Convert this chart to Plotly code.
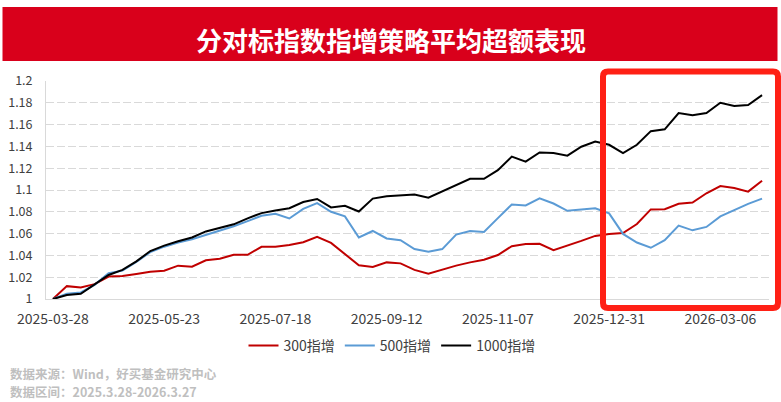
import plotly.graph_objects as go

dates = [
    "2025-03-28", "2025-04-03", "2025-04-11", "2025-04-18", "2025-04-25", "2025-04-30",
    "2025-05-09", "2025-05-16", "2025-05-23", "2025-05-30", "2025-06-06", "2025-06-13",
    "2025-06-20", "2025-06-27", "2025-07-04", "2025-07-11", "2025-07-18", "2025-07-25",
    "2025-08-01", "2025-08-08", "2025-08-15", "2025-08-22", "2025-08-29", "2025-09-05",
    "2025-09-12", "2025-09-19", "2025-09-26", "2025-09-30", "2025-10-10", "2025-10-17",
    "2025-10-24", "2025-10-31", "2025-11-07", "2025-11-14", "2025-11-21", "2025-11-28",
    "2025-12-05", "2025-12-12", "2025-12-19", "2025-12-26", "2025-12-31", "2026-01-09",
    "2026-01-16", "2026-01-23", "2026-01-30", "2026-02-06", "2026-02-13", "2026-02-27",
    "2026-03-06", "2026-03-13", "2026-03-20", "2026-03-27",
]

s300 = [
    1.000, 1.0118, 1.0106, 1.0136, 1.0206, 1.0210, 1.0230, 1.0250, 1.0260, 1.0306,
    1.0297, 1.0355, 1.0370, 1.0406, 1.0406, 1.0479, 1.0479, 1.0495, 1.0521, 1.0570,
    1.0515, 1.0412, 1.0309, 1.0294, 1.0336, 1.0327, 1.0267, 1.0233, 1.0273, 1.0306,
    1.0336, 1.0360, 1.0403, 1.0485, 1.0505, 1.0506, 1.0448, 1.0488, 1.0533, 1.0579,
    1.0597, 1.0605, 1.0688, 1.0822, 1.0824, 1.0873, 1.0885, 1.0970, 1.1036, 1.1018,
    1.0985, 1.1085,
]

s500 = [
    1.000, 1.0048, 1.0060, 1.0130, 1.0236, 1.0260, 1.0340, 1.0430, 1.0480, 1.0518,
    1.0548, 1.0588, 1.0630, 1.0667, 1.0715, 1.0764, 1.0782, 1.0739, 1.0827, 1.0879,
    1.0800, 1.0758, 1.0564, 1.0624, 1.0555, 1.0540, 1.0458, 1.0433, 1.0458, 1.0591,
    1.0624, 1.0615, 1.0742, 1.0867, 1.0858, 1.0924, 1.0876, 1.0809, 1.0821, 1.0833,
    1.0785, 1.0597, 1.0518, 1.0470, 1.0539, 1.0673, 1.0630, 1.0661, 1.0758, 1.0818,
    1.0873, 1.0921,
]

s1000 = [
    1.000, 1.0036, 1.0048, 1.0130, 1.0220, 1.0267, 1.0345, 1.0440, 1.0490, 1.0530,
    1.0564, 1.0620, 1.0649, 1.0685, 1.0740, 1.0788, 1.0812, 1.0833, 1.0890, 1.0918,
    1.0840, 1.0855, 1.0803, 1.0921, 1.0942, 1.0951, 1.0958, 1.0930, 1.0988, 1.1045,
    1.1103, 1.1103, 1.1182, 1.1306, 1.1260, 1.1345, 1.1339, 1.1315, 1.1397, 1.1445,
    1.1415, 1.1339, 1.1415, 1.1540, 1.1557, 1.1706, 1.1685, 1.1706, 1.1800, 1.1770,
    1.1779, 1.1870,
]

series_names = ["300指增", "500指增", "1000指增"]
series_colors = ["#c00000", "#5b9bd5", "#000000"]

x_tick_labels = ["2025-03-28", "2025-05-23", "2025-07-18", "2025-09-12",
                 "2025-11-07", "2025-12-31", "2026-03-06"]
y_tick_vals = [1.0, 1.02, 1.04, 1.06, 1.08, 1.1, 1.12, 1.14, 1.16, 1.18, 1.2]
y_tick_text = ["1", "1.02", "1.04", "1.06", "1.08", "1.1", "1.12", "1.14", "1.16", "1.18", "1.2"]

title_text = "分对标指数指增策略平均超额表现"
source_text = "数据来源：Wind，好买基金研究中心"
range_text = "数据区间：2025.3.28-2026.3.27"

FONT = "Noto Sans CJK SC"

fig = go.Figure()
for name, vals, col in zip(series_names, [s300, s500, s1000], series_colors):
    fig.add_trace(go.Scatter(x=dates, y=vals, mode="lines", name=name,
                             line=dict(color=col, width=2), hoverinfo="skip"))

n = len(dates)
boundary_ticks = [dates.index(d) - 0.5 for d in x_tick_labels[1:]]

W, H = 781, 402
L, R, T, B = 46, 12, 81, 103
pw, ph = W - L - R, H - T - B


def px(x):
    return (x - L) / pw


def py(y):
    return (H - B - y) / ph


fig.update_layout(
    width=W, height=H,
    margin=dict(l=L, r=R, t=T, b=B, autoexpand=False),
    paper_bgcolor="white", plot_bgcolor="white",
    font=dict(family=FONT, size=13, color="#404040"),
    showlegend=True,
    legend=dict(orientation="h", xref="container", yref="container",
                x=392 / W, xanchor="center", y=1 - 346 / H, yanchor="middle",
                font=dict(size=14, color="#404040"), itemwidth=30,
                tracegroupgap=0, bgcolor="rgba(0,0,0,0)"),
    xaxis=dict(type="category", categoryorder="array", categoryarray=dates,
               range=[-0.5, n - 0.5], tickmode="array", tickvals=x_tick_labels,
               ticktext=x_tick_labels, ticks="", showgrid=False, showline=True,
               linecolor="#d9d9d9", linewidth=1, zeroline=False, automargin=False,
               tickfont=dict(size=14, color="#404040"), ticklabelstandoff=7),
    xaxis2=dict(overlaying="x", type="linear", range=[-0.5, n - 0.5],
                tickmode="array", tickvals=boundary_ticks, ticks="inside",
                ticklen=5, tickcolor="#d9d9d9", tickwidth=1, automargin=False,
                showticklabels=False, showgrid=False, showline=False,
                zeroline=False, side="bottom"),
    yaxis=dict(range=[1.0, 1.2], tickmode="array", tickvals=y_tick_vals,
               ticktext=y_tick_text, showgrid=True, gridcolor="#d9d9d9",
               griddash="8px,3px", gridwidth=1, showline=True, automargin=False,
               linecolor="#d9d9d9", linewidth=1, zeroline=False, ticks="",
               tickfont=dict(size=12.5, color="#404040"), ticklabelstandoff=10),
)

# red title banner
fig.add_shape(type="rect", xref="paper", yref="paper",
              x0=px(2.5), x1=px(777.5), y0=py(61), y1=py(7),
              fillcolor="#d9001b", line=dict(width=0), layer="below")
fig.add_annotation(xref="paper", yref="paper", x=px(391), y=py(39),
                   text="<b>" + title_text + "</b>", showarrow=False,
                   xanchor="center", yanchor="middle",
                   font=dict(family=FONT, size=26, color="white"))

# highlight box (rounded)
x0, x1, y0, y1 = 603, 778, 71.5, 308
r = 5
path = (f"M {px(x0 + r)},{py(y0)} L {px(x1 - r)},{py(y0)} "
        f"Q {px(x1)},{py(y0)} {px(x1)},{py(y0 + r)} "
        f"L {px(x1)},{py(y1 - r)} Q {px(x1)},{py(y1)} {px(x1 - r)},{py(y1)} "
        f"L {px(x0 + r)},{py(y1)} Q {px(x0)},{py(y1)} {px(x0)},{py(y1 - r)} "
        f"L {px(x0)},{py(y0 + r)} Q {px(x0)},{py(y0)} {px(x0 + r)},{py(y0)} Z")
fig.add_shape(type="path", xref="paper", yref="paper", path=path,
              line=dict(color="#ff2015", width=6), fillcolor="rgba(0,0,0,0)",
              layer="above")

# footer
for txt, yy in [(source_text, 373), (range_text, 391)]:
    fig.add_annotation(xref="paper", yref="paper", x=px(9), y=py(yy),
                       text="<b>" + txt + "</b>", showarrow=False, borderpad=0,
                       xanchor="left", yanchor="middle", align="left",
                       font=dict(family=FONT, size=12.5, color="#bfbfbf"))

fig.write_html("out.html",
               config={"displayModeBar": False, "staticPlot": True},
               post_script="document.body.style.margin='0px';"
                           "document.body.style.overflow='hidden';")
